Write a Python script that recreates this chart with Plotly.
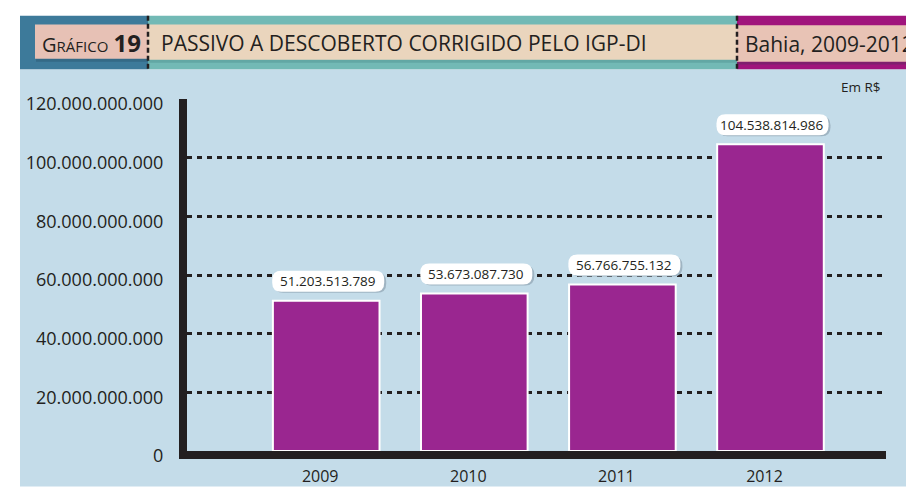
import plotly.graph_objects as go

# ---------------- data ----------------
anos = ["2009", "2010", "2011", "2012"]
valores = [51203513789, 53673087730, 56766755132, 104538814986]
rotulos = ["51.203.513.789", "53.673.087.730", "56.766.755.132", "104.538.814.986"]
y_ticks = [0, 20e9, 40e9, 60e9, 80e9, 100e9, 120e9]
y_tick_labels = ["0", "20.000.000.000", "40.000.000.000", "60.000.000.000",
                 "80.000.000.000", "100.000.000.000", "120.000.000.000"]
titulo = "PASSIVO A DESCOBERTO CORRIGIDO PELO IGP-DI"
local = "Bahia, 2009-2012"
unidade = "Em R$"

# ---------------- layout geometry (page pixels) ----------------
W, H = 906, 499
PL, PR, PT, PB = 187, 886, 99, 467
L, R, T, B = PL, W - PR, PT, H - PB
PW = PR - PL
PH = PB - PT

def px(x):   # page pixel x -> paper
    return (x - PL) / PW

def py(y):   # page pixel y -> paper
    return (PB - y) / PH

FONT = "Open Sans, Noto Sans, sans-serif"
INK = "#231f20"
BG = "#c4dce9"
BAR = "#9a2690"

fig = go.Figure()
fig.add_trace(go.Bar(
    x=anos, y=valores, width=0.72,
    marker=dict(color=BAR, line=dict(color="white", width=2)),
    hoverinfo="skip",
))

shapes = []
# chart background panel
shapes.append(dict(type="rect", xref="paper", yref="paper", layer="below",
                   x0=px(20), x1=px(W + 5), y0=py(68), y1=py(H + 5),
                   fillcolor=BG, line=dict(width=0)))
# header bands
shapes.append(dict(type="rect", xref="paper", yref="paper",
                   x0=px(20), x1=px(148), y0=py(12), y1=py(68),
                   fillcolor="#3d7a9a", line=dict(width=0)))
shapes.append(dict(type="rect", xref="paper", yref="paper",
                   x0=px(148), x1=px(737), y0=py(12), y1=py(68),
                   fillcolor="#72b9b5", line=dict(width=0)))
shapes.append(dict(type="rect", xref="paper", yref="paper",
                   x0=px(737), x1=px(W + 5), y0=py(12), y1=py(68),
                   fillcolor="#a0147c", line=dict(width=0)))
# subtle shadows under inner boxes
shapes.append(dict(type="rect", xref="paper", yref="paper",
                   x0=px(36), x1=px(148), y0=py(57), y1=py(60),
                   fillcolor="#356a86", line=dict(width=0)))
shapes.append(dict(type="rect", xref="paper", yref="paper",
                   x0=px(148), x1=px(737), y0=py(58), y1=py(61),
                   fillcolor="#62a7a4", line=dict(width=0)))
shapes.append(dict(type="rect", xref="paper", yref="paper",
                   x0=px(737), x1=px(W + 5), y0=py(60), y1=py(63),
                   fillcolor="#7f1f6e", line=dict(width=0)))
# inner boxes
shapes.append(dict(type="rect", xref="paper", yref="paper",
                   x0=px(35), x1=px(148), y0=py(21), y1=py(57),
                   fillcolor="#e7c1b5", line=dict(width=0)))
shapes.append(dict(type="rect", xref="paper", yref="paper",
                   x0=px(148), x1=px(737), y0=py(21), y1=py(58),
                   fillcolor="#ead5bd", line=dict(width=0)))
shapes.append(dict(type="rect", xref="paper", yref="paper",
                   x0=px(737), x1=px(W + 5), y0=py(22), y1=py(60),
                   fillcolor="#e8c3b5", line=dict(width=0)))
# dashed separators
for xs in (148, 737):
    shapes.append(dict(type="line", xref="paper", yref="paper",
                       x0=px(xs), x1=px(xs), y0=py(12), y1=py(68),
                       line=dict(color=INK, width=2.5, dash="5px,3px")))

# rounded label boxes anchored at each bar top
def rrect(x0, x1, y0, y1, r):
    return (f"M{x0+r},{y0} L{x1-r},{y0} Q{x1},{y0} {x1},{y0+r} "
            f"L{x1},{y1-r} Q{x1},{y1} {x1-r},{y1} L{x0+r},{y1} "
            f"Q{x0},{y1} {x0},{y1-r} L{x0},{y0+r} Q{x0},{y0} {x0+r},{y0} Z")

annotations = []
for i, (v, t) in enumerate(zip(valores, rotulos)):
    shapes.append(dict(type="path", xref="x", yref="y",
                       xsizemode="pixel", ysizemode="pixel",
                       xanchor=i, yanchor=v,
                       path=rrect(-52, 60, 8, 28, 9),
                       fillcolor="#9fb4c2", line=dict(width=0)))
    shapes.append(dict(type="path", xref="x", yref="y",
                       xsizemode="pixel", ysizemode="pixel",
                       xanchor=i, yanchor=v,
                       path=rrect(-54, 58, 9, 30, 9),
                       fillcolor="white", line=dict(width=0)))
    annotations.append(dict(x=i, y=v, xref="x", yref="y", text=t,
                            showarrow=False, yshift=19.5, xshift=2,
                            font=dict(family=FONT, size=13.5, color=INK)))

# header texts
annotations.append(dict(xref="paper", yref="paper", x=px(40), y=py(40),
                        xanchor="left", yanchor="middle", showarrow=False,
                        text="G<span style='font-size:15px'>RÁFICO</span> <b style='font-size:24px'>19</b>",
                        font=dict(family=FONT, size=20, color=INK)))
annotations.append(dict(xref="paper", yref="paper", x=px(159), y=py(40),
                        xanchor="left", yanchor="middle", showarrow=False,
                        text=titulo, font=dict(family=FONT, size=21, color=INK)))
annotations.append(dict(xref="paper", yref="paper", x=px(743), y=py(41),
                        xanchor="left", yanchor="middle", showarrow=False,
                        text=local, font=dict(family=FONT, size=21, color=INK)))
annotations.append(dict(xref="paper", yref="paper", x=px(883), y=py(86),
                        xanchor="right", yanchor="middle", showarrow=False,
                        text=unidade, font=dict(family=FONT, size=13.5, color=INK)))

fig.update_layout(
    width=W, height=H,
    margin=dict(l=L, r=R, t=T, b=B),
    paper_bgcolor="white", plot_bgcolor=BG,
    showlegend=False,
    shapes=shapes, annotations=annotations,
    font=dict(family=FONT, color=INK),
)
fig.update_xaxes(type="category", range=[-0.94, 3.78], showgrid=False,
                 showline=True, linewidth=8, linecolor=INK,
                 ticks="", ticklabelshift=-6, ticklabelstandoff=4,
                 tickfont=dict(family=FONT, size=16, color=INK),
                 fixedrange=True)
fig.update_yaxes(range=[0, 120e9], tickvals=y_ticks, ticktext=y_tick_labels,
                 showgrid=True, gridcolor=INK, gridwidth=3, griddash="5px,5px",
                 zeroline=False, showline=True, linewidth=8, linecolor=INK,
                 ticks="", ticklabelstandoff=12, ticklabelshift=5,
                 tickfont=dict(family=FONT, size=18, color=INK),
                 fixedrange=True)

fig.write_html(
    "out.html",
    config={"displayModeBar": False},
    post_script="document.body.style.margin='0px';document.body.style.overflow='hidden';",
)
